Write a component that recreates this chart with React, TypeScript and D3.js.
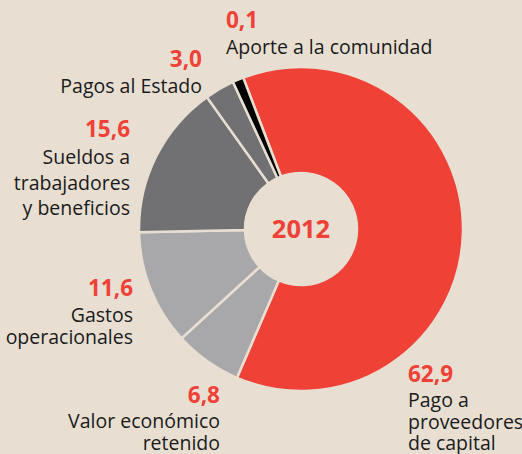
import React from "react";
import * as d3 from "d3";

// ---- data ----
const categories = [
  "Pago a proveedores de capital",
  "Valor económico retenido",
  "Gastos operacionales",
  "Sueldos a trabajadores y beneficios",
  "Pagos al Estado",
  "Aporte a la comunidad",
];
const values = [62.9, 6.8, 11.6, 15.6, 3.0, 0.1];
const valueLabels = ["62,9", "6,8", "11,6", "15,6", "3,0", "0,1"];
const labelLines = [
  ["Pago a", "proveedores", "de capital"],
  ["Valor económico", "retenido"],
  ["Gastos", "operacionales"],
  ["Sueldos a", "trabajadores", "y beneficios"],
  ["Pagos al Estado"],
  ["Aporte a la comunidad"],
];
const centerLabel = "2012";

// ---- styles / layout ----
const W = 522;
const H = 454;
const BG = "#e8dfd2";
const RED = "#ef4136";
const colors = [RED, "#a8a7aa", "#a8a7aa", "#717073", "#717073", "#000000"];
const cx = 301;
const cy = 229;
const outerR = 162;
const innerR = 56;
const startDeg = -20.9;
const minShare = 1.1; // smallest slices are drawn at a visible minimum size
const FONT = "'Open Sans', 'Noto Sans', sans-serif";

// label placement: anchor x, baseline of number, first line gap, line spacing
const labelLayout = [
  { x: 408, y: 382, anchor: "start", gap: 25, step: 21.5 },
  { x: 220, y: 403, anchor: "end", gap: 25, step: 22 },
  { x: 133, y: 296, anchor: "end", gap: 26, step: 21.5 },
  { x: 130, y: 137, anchor: "end", gap: 27, step: 25.5 },
  { x: 202, y: 67, anchor: "end", gap: 26, step: 24 },
  { x: 226, y: 28, anchor: "start", gap: 26, step: 24 },
];

export default function App() {
  const pie = d3
    .pie<number>()
    .sort(null)
    .value((d) => Math.max(d, minShare))
    .startAngle((startDeg * Math.PI) / 180)
    .endAngle(((startDeg + 360) * Math.PI) / 180);
  const arcs = pie(values);
  const arc = d3.arc<d3.PieArcDatum<number>>().innerRadius(innerR).outerRadius(outerR);

  return (
    <svg
      width={W}
      height={H}
      style={{ position: "absolute", left: 0, top: 0, display: "block" }}
      fontFamily={FONT}
    >
      <rect x={0} y={0} width={W} height={H} fill={BG} />
      <g transform={`translate(${cx},${cy})`}>
        {arcs.map((a, i) => (
          <path
            key={categories[i]}
            d={arc(a) || ""}
            fill={colors[i]}
            stroke={BG}
            strokeWidth={2.5}
            strokeLinejoin="miter"
          />
        ))}
        <text
          x={0}
          y={0}
          dy="0.36em"
          textAnchor="middle"
          fontSize={25.5}
          fontWeight={700}
          fill={RED}
        >
          {centerLabel}
        </text>
      </g>
      {values.map((v, i) => {
        const L = labelLayout[i];
        return (
          <g key={categories[i]}>
            <text
              x={L.x}
              y={L.y}
              textAnchor={L.anchor}
              fontSize={22.5}
              fontWeight={700}
              fill={RED}
            >
              {valueLabels[i]}
            </text>
            {labelLines[i].map((line, j) => (
              <text
                key={j}
                x={L.x}
                y={L.y + L.gap + j * L.step}
                textAnchor={L.anchor}
                fontSize={19.5}
                fill="#1a1a1a"
              >
                {line}
              </text>
            ))}
          </g>
        );
      })}
    </svg>
  );
}
